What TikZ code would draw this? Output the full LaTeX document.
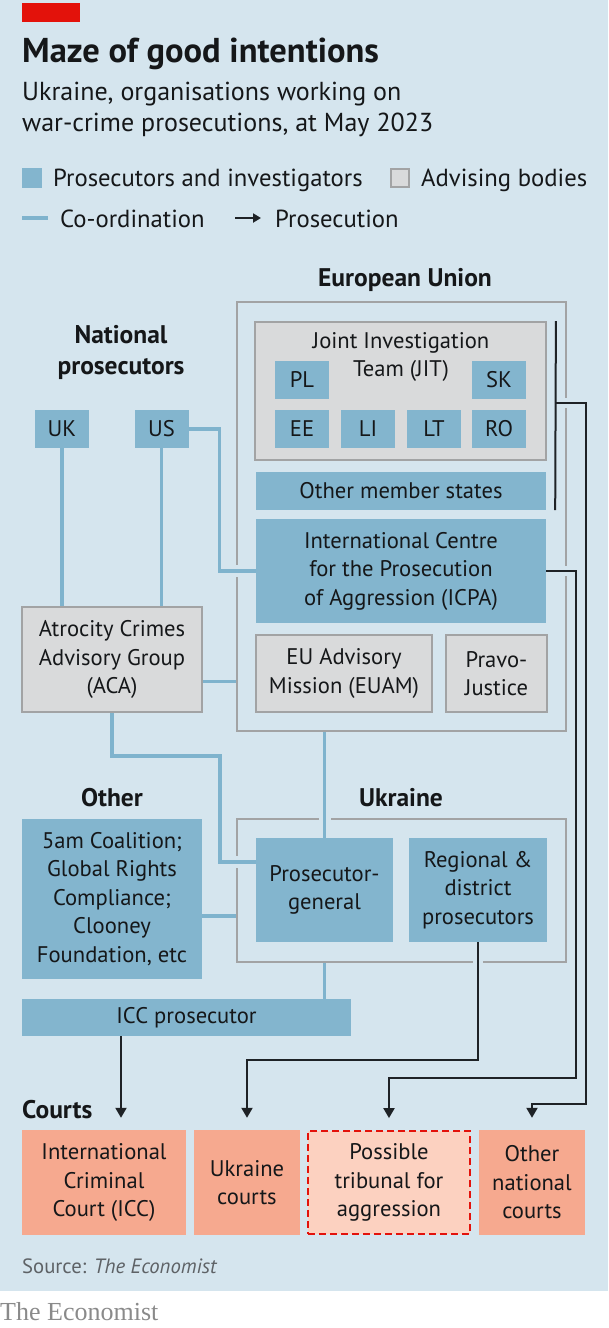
\documentclass[tikz,border=0pt]{standalone}
\usepackage{fontspec}
\setmainfont{PT Sans}
\newfontfamily\footfont{Liberation Serif}
\usepackage{xcolor}
\usetikzlibrary{positioning, calc, arrows.meta}
\definecolor{bg}{HTML}{D5E5EE}
\definecolor{prosblue}{HTML}{83B5CE}
\definecolor{lineblue}{HTML}{7FB3CD}
\definecolor{advgray}{HTML}{D9DADB}
\definecolor{framegray}{HTML}{A2A3A4}
\definecolor{courtred}{HTML}{F6A98F}
\definecolor{tribred}{HTML}{FCD1C0}
\definecolor{econred}{HTML}{E3120B}
\definecolor{ink}{HTML}{151719}
\definecolor{ink2}{HTML}{1E2226}
\definecolor{srcgray}{HTML}{5E6266}
\definecolor{footgray}{HTML}{8A8A8A}
\newcommand\legfont{\fontsize{24.7}{31}\selectfont}
\newcommand\subfont{\fontsize{26}{31}\selectfont}
\newcommand\boxfont{\fontsize{22.6}{28.5}\selectfont}
\newcommand\headfont{\fontsize{25.5}{31}\selectfont\bfseries}

\begin{document}
\begin{tikzpicture}[x=1pt, y=-1pt,
        txt/.style={inner sep=0pt, text=ink},
        pros/.style={fill=prosblue, inner sep=0pt, align=center, text=ink, font=\boxfont},
        adv/.style={pros, fill=advgray, draw=framegray, line width=1.8pt},
        court/.style={pros, fill=courtred},
        outline/.style={draw=framegray, line width=1.8pt, inner sep=0pt},
        head/.style={txt, font=\headfont, align=center},
        coord/.style={draw=lineblue, line width=3.5pt},
        pline/.style={draw=ink2, line width=2pt},
        arr/.style={pline, -{Triangle[width=11pt,length=10pt]}, shorten >=12pt},
        hop/.style={preaction={draw=bg, -, line width=#1, shorten <=3pt, shorten >=3pt}}]
        \useasboundingbox (0,0) rectangle (608,1328);
        \fill[bg] (0,0) rectangle (608,1291);
        \fill[econred] (22,3) rectangle (80,22);

        \node[txt, anchor=base west, font=\fontsize{34.5}{40}\selectfont\bfseries] (title) at (22,62) {Maze of good intentions};
        \node[txt, anchor=base west, font=\subfont] (sub1) at (22,100) {Ukraine, organisations working on};
        \node[txt, anchor=base west, font=\subfont] (sub2) at (22,131) {war-crime prosecutions, at May 2023};

        \node[pros, minimum size=20pt] (lgpros) at (32,178) {};
        \node[txt, anchor=base west, font=\legfont] (lgprostxt) at (53,186) {Prosecutors and investigators};
        \node[adv, minimum size=18pt, line width=1.5pt] (lgadv) at (400,178) {};
        \node[txt, anchor=base west, font=\legfont] (lgadvtxt) at (421,186) {Advising bodies};
        \coordinate (lgc1) at (22,218);
        \coordinate (lgc2) at (48,218);
        \draw[coord] (lgc1) -- (lgc2);
        \node[txt, anchor=base west, font=\legfont] (lgctxt) at (60,227) {Co-ordination};
        \coordinate (lga1) at (235,218);
        \coordinate (lga2) at (261,218);
        \draw[pline, -{Triangle[width=9pt,length=8pt]}] (lga1) -- (lga2);
        \node[txt, anchor=base west, font=\legfont] (lgatxt) at (275,227) {Prosecution};

        % European Union
        \node[head] (eulbl) at (405,280) {European Union};
        \node[outline, minimum width=329pt, minimum height=429pt] (eu) at (401.5,516.5) {};
        \node[adv, minimum width=291pt, minimum height=138pt] (jit) at (400.5,391) {};
        \node[txt, align=center, font=\boxfont] (jitlbl) at (401,357) {Joint Investigation\\Team (JIT)};
        \node[pros, minimum width=54pt, minimum height=38pt] (pl) at (302,379.5) {PL};
        \node[pros, minimum width=54pt, minimum height=38pt] (sk) at (499,379.5) {SK};
        \node[pros, minimum width=54pt, minimum height=38pt] (ee) at (302,429) {EE};
        \node[pros, minimum width=54pt, minimum height=38pt] (li) at (368,429) {LI};
        \node[pros, minimum width=54pt, minimum height=38pt] (lt) at (434,429) {LT};
        \node[pros, minimum width=54pt, minimum height=38pt] (ro) at (499,429) {RO};
        \node[pros, minimum width=290pt, minimum height=38pt] (oms) at (401,491) {Other member states};
        \node[pros, minimum width=290pt, minimum height=104pt] (icpa) at (401,571) {International Centre\\for the Prosecution\\of Aggression (ICPA)};
        \node[adv, minimum width=176pt, minimum height=77pt] (euam) at (344,673.5) {EU Advisory\\Mission (EUAM)};
        \node[adv, minimum width=101pt, minimum height=77pt] (pravo) at (496.5,673.5) {Pravo-\\Justice};

        % National prosecutors
        \node[head] (natlbl) at (121,352) {National\\prosecutors};
        \node[pros, minimum width=54pt, minimum height=38pt] (uk) at (62,429) {UK};
        \node[pros, minimum width=54pt, minimum height=38pt] (us) at (161.5,429) {US};
        \node[adv, minimum width=180pt, minimum height=105pt] (aca) at (112,659.5) {Atrocity Crimes\\Advisory Group\\(ACA)};

        % Ukraine and other
        \node[head] (otherlbl) at (112,798) {Other};
        \node[head] (ualbl) at (401,798) {Ukraine};
        \node[outline, minimum width=329pt, minimum height=143pt] (ua) at (401.5,890.5) {};
        \node[pros, minimum width=180pt, minimum height=160pt] (other) at (112,899) {5am Coalition;\\Global Rights\\Compliance;\\Clooney\\Foundation, etc};
        \node[pros, minimum width=137pt, minimum height=104pt] (pg) at (324.5,890) {Prosecutor-\\general};
        \node[pros, minimum width=138pt, minimum height=104pt] (reg) at (478,890) {Regional \&\\district\\prosecutors};
        \node[pros, minimum width=329pt, minimum height=37pt] (iccp) at (186.5,1017.5) {ICC prosecutor};

        % Courts
        \node[txt, anchor=base west, font=\headfont] (courtslbl) at (22,1118) {Courts};
        \node[court, minimum width=164pt, minimum height=105pt] (icc) at (104,1182.5) {International\\Criminal\\Court (ICC)};
        \node[court, minimum width=106pt, minimum height=105pt] (uac) at (247,1182.5) {Ukraine\\courts};
        \node[court, fill=tribred, draw=econred, line width=1.8pt, dash pattern=on 7pt off 4pt, minimum width=162pt, minimum height=103pt] (trib) at (389,1182.5) {Possible\\tribunal for\\aggression};
        \node[court, minimum width=106pt, minimum height=105pt] (onc) at (532,1182.5) {Other\\national\\courts};

        % co-ordination
        \draw[coord] (uk) -- (uk |- aca.north);
        \draw[coord] (us) -- (us |- aca.north);
        \draw[coord, hop=12pt] (us.east) -- ++(31,0) |- (icpa.west);
        \draw[coord] ([yshift=-22pt]aca.east) -- ([yshift=-22pt]aca.east -| eu.west);
        \draw[coord, hop=12pt] (aca.south) -- ++(0,43) -- ++(108,0) |- ([yshift=28pt]pg.west);
        \draw[coord, hop=12pt] (pg.north |- eu.south) -- (pg.north);
        \draw[coord] ([yshift=-17pt]other.east) -- ([yshift=-17pt]other.east -| ua.west);
        \draw[coord] (pg.north |- ua.south) -- (pg.north |- iccp.north);

        % prosecution
        \coordinate (jittop) at ([xshift=9pt]jit.north east);
        \coordinate (jitbot) at ([xshift=9pt]oms.south east);
        \coordinate (jitbr) at ([xshift=9pt,yshift=-12pt]jit.east);
        \draw[pline] (jittop) -- (jitbot);
        \draw[arr, hop=10pt] (jitbr) -- ++(30,0) |- ([yshift=26pt]onc.north) -- (onc.north);
        \draw[arr, hop=10pt] (icpa.east) -- ++(30,0) |- ([yshift=52pt]trib.north) -- (trib.north);
        \draw[arr, hop=10pt] (reg.south) -- ++(0,118) -| (uac.north);
        \draw[arr] ([xshift=17pt]icc.north |- iccp.south) -- ([xshift=17pt]icc.north);

        \node[txt, anchor=base west, text=srcgray, font=\fontsize{20.7}{24}\selectfont] (src) at (22,1273) {Source: \textit{The Economist}};
        \node[anchor=base west, inner sep=0pt, text=footgray, font=\footfont\fontsize{26}{30}\selectfont] (foot) at (0,1320) {The Economist};
    \end{tikzpicture}
\end{document}
